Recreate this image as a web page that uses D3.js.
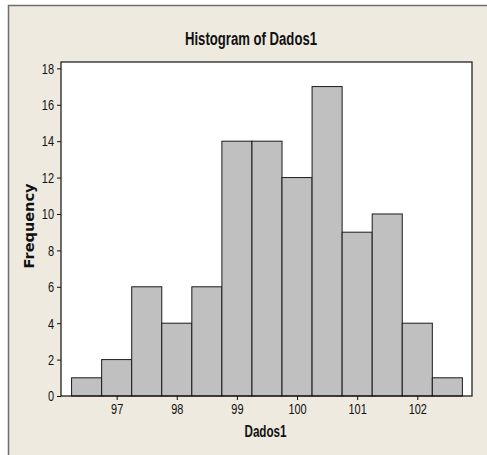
<!DOCTYPE html>
<html>
<head>
<meta charset="utf-8">
<script src="https://cdn.jsdelivr.net/npm/d3@7/dist/d3.min.js"></script>
<style>
  body { margin: 0; background: #ffffff; overflow: hidden; }
  svg { display: block; }
</style>
</head>
<body>
<div id="vis"></div>
<script>
// bin midpoints and counts
const binMids = [96.5, 97, 97.5, 98, 98.5, 99, 99.5, 100, 100.5, 101, 101.5, 102, 102.5];
const counts = [1, 2, 6, 4, 6, 14, 14, 12, 17, 9, 10, 4, 1];
const binWidth = 0.5;
const xTicks = [97, 98, 99, 100, 101, 102];
const yTicks = [0, 2, 4, 6, 8, 10, 12, 14, 16, 18];

const width = 487, height = 455;
const box = { left: 61, right: 472, top: 62, bottom: 396 };

// Minitab uses a narrow face; no narrow font here, so squeeze Liberation Sans
const sans = '"Liberation Sans", Arial, sans-serif';
const digitW = 6.1;

const svg = d3.select('#vis').append('svg')
  .attr('width', width)
  .attr('height', height);

// beige graph window; its right and bottom edges fall outside the picture
svg.append('rect')
  .attr('x', 8.5).attr('y', 5.5)
  .attr('width', 700).attr('height', 700)
  .attr('fill', '#eeeae0')
  .attr('stroke', '#6e6e6e')
  .attr('stroke-width', 1.5);

// x scale runs a little beyond the outer bin edges, like Minitab does
const x = d3.scaleLinear()
  .domain([96.074, 102.91])
  .range([box.left, box.right]);

const y = d3.scaleLinear()
  .domain([0, 18.35])
  .range([box.bottom, box.top]);

// white data region
svg.append('rect')
  .attr('x', box.left).attr('y', box.top)
  .attr('width', box.right - box.left)
  .attr('height', box.bottom - box.top)
  .attr('fill', '#ffffff');

// bars
svg.selectAll('.bar')
  .data(binMids.map((m, i) => ({ mid: m, n: counts[i] })))
  .enter().append('rect')
  .classed('bar', true)
  .attr('x', d => x(d.mid - binWidth / 2))
  .attr('y', d => y(d.n))
  .attr('width', d => x(d.mid + binWidth / 2) - x(d.mid - binWidth / 2))
  .attr('height', d => y(0) - y(d.n))
  .attr('fill', '#c0c0c0')
  .attr('stroke', '#1a1a1a')
  .attr('stroke-width', 1);

// data region border
svg.append('rect')
  .attr('x', box.left).attr('y', box.top)
  .attr('width', box.right - box.left)
  .attr('height', box.bottom - box.top)
  .attr('fill', 'none')
  .attr('stroke', '#111')
  .attr('stroke-width', 1.2);

// axes
const xAxis = svg.append('g')
  .attr('transform', `translate(0,${box.bottom})`)
  .call(d3.axisBottom(x).tickValues(xTicks).tickFormat(d3.format('d'))
    .tickSize(4).tickPadding(3).tickSizeOuter(0));

const yAxis = svg.append('g')
  .attr('transform', `translate(${box.left},0)`)
  .call(d3.axisLeft(y).tickValues(yTicks).tickFormat(d3.format('d'))
    .tickSize(4).tickPadding(3).tickSizeOuter(0));

[xAxis, yAxis].forEach(g => {
  g.select('.domain').remove();
  g.selectAll('line').attr('stroke', '#111');
  g.selectAll('text')
    .attr('fill', '#111')
    .style('font-family', sans)
    .style('font-size', '15px')
    .attr('lengthAdjust', 'spacingAndGlyphs')
    .attr('textLength', function () { return this.textContent.length * digitW; });
});

// titles
svg.append('text')
  .attr('x', 251).attr('y', 45)
  .attr('text-anchor', 'middle')
  .style('font-family', sans)
  .style('font-weight', 'bold')
  .style('font-size', '18px')
  .attr('lengthAdjust', 'spacingAndGlyphs')
  .attr('textLength', 132)
  .attr('fill', '#111')
  .text('Histogram of Dados1');

svg.append('text')
  .attr('x', (box.left + box.right) / 2 - 1).attr('y', 437)
  .attr('text-anchor', 'middle')
  .style('font-family', sans)
  .style('font-weight', 'bold')
  .style('font-size', '16px')
  .attr('lengthAdjust', 'spacingAndGlyphs')
  .attr('textLength', 42)
  .attr('fill', '#111')
  .text('Dados1');

svg.append('text')
  .attr('transform', `translate(34,${(box.top + box.bottom) / 2 - 3}) rotate(-90)`)
  .attr('text-anchor', 'middle')
  .style('font-family', '"DejaVu Sans", sans-serif')
  .style('font-weight', 'bold')
  .style('font-size', '14px')
  .attr('lengthAdjust', 'spacingAndGlyphs')
  .attr('textLength', 85)
  .attr('fill', '#111')
  .text('Frequency');
</script>
</body>
</html>
